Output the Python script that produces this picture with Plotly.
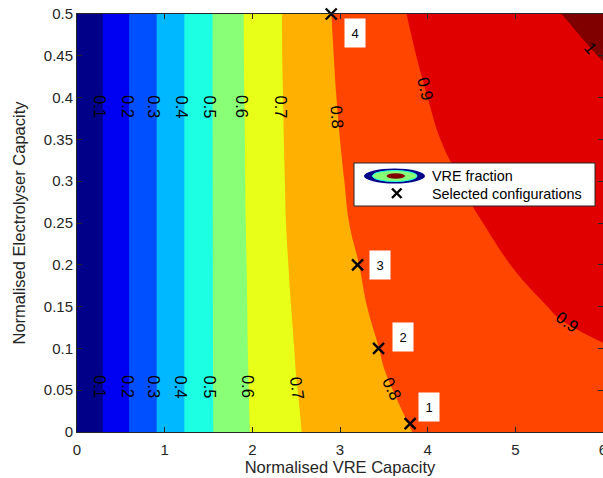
import plotly.graph_objects as go

# Grid of normalised capacities
vre_capacity = [0, 0.5, 1, 1.5, 2, 2.5, 3, 3.5, 4, 4.5, 5, 5.5, 6]
electrolyser_capacity = [0, 0.05, 0.1, 0.15, 0.2, 0.25, 0.3, 0.35, 0.4, 0.45, 0.5]

# VRE fraction, one row per electrolyser capacity
vre_fraction = [
    [0, 0.170, 0.329, 0.487, 0.607, 0.694, 0.742, 0.778, 0.812, 0.839, 0.852, 0.862, 0.869],
    [0, 0.170, 0.329, 0.487, 0.610, 0.698, 0.753, 0.794, 0.823, 0.850, 0.864, 0.876, 0.884],
    [0, 0.170, 0.329, 0.487, 0.613, 0.704, 0.759, 0.805, 0.834, 0.861, 0.877, 0.890, 0.898],
    [0, 0.170, 0.329, 0.487, 0.615, 0.711, 0.771, 0.818, 0.845, 0.872, 0.889, 0.904, 0.913],
    [0, 0.170, 0.329, 0.487, 0.617, 0.718, 0.780, 0.826, 0.856, 0.884, 0.902, 0.917, 0.928],
    [0, 0.170, 0.329, 0.487, 0.620, 0.724, 0.790, 0.838, 0.867, 0.895, 0.914, 0.931, 0.943],
    [0, 0.170, 0.329, 0.487, 0.622, 0.727, 0.795, 0.845, 0.882, 0.906, 0.926, 0.945, 0.958],
    [0, 0.170, 0.329, 0.487, 0.623, 0.730, 0.800, 0.847, 0.893, 0.917, 0.939, 0.958, 0.972],
    [0, 0.170, 0.329, 0.487, 0.625, 0.732, 0.806, 0.853, 0.900, 0.929, 0.951, 0.972, 0.987],
    [0, 0.170, 0.329, 0.487, 0.627, 0.734, 0.811, 0.863, 0.913, 0.940, 0.964, 0.986, 1.002],
    [0, 0.170, 0.329, 0.487, 0.628, 0.734, 0.816, 0.873, 0.925, 0.951, 0.976, 0.999, 1.017],
]

contour_levels = [0.1, 0.2, 0.3, 0.4, 0.5, 0.6, 0.7, 0.8, 0.9, 1.0]

# jet-style band colours (below 0.1 ... above 1.0)
band_colors = ["#000088", "#0000F2", "#0050FF", "#00B8FF", "#1CFFE3", "#88FF77",
               "#E8FF17", "#FFB000", "#FF4500", "#E00000", "#800000"]

# Selected configurations
sel_vre = [3.8, 3.44, 3.2, 2.9]
sel_elec = [0.01, 0.10, 0.20, 0.50]
sel_ids = ["1", "2", "3", "4"]

FONT = "Liberation Sans, Arial, sans-serif"
AX_COLOR = "#262626"

colorscale = [[i / (len(band_colors) - 1), c] for i, c in enumerate(band_colors)]

fig = go.Figure()
fig.add_trace(go.Contour(
    x=vre_capacity, y=electrolyser_capacity, z=vre_fraction,
    autocontour=False,
    contours=dict(start=contour_levels[0], end=contour_levels[-1],
                  size=round(contour_levels[1] - contour_levels[0], 10),
                  coloring="fill", showlines=False),
    colorscale=colorscale, showscale=False,
    line=dict(width=0, smoothing=1.2),
    hoverinfo="skip", name="VRE fraction",
))

fig.add_trace(go.Scatter(
    x=sel_vre, y=sel_elec, mode="markers", name="Selected configurations",
    marker=dict(symbol="x-thin", size=11, line=dict(width=2.4, color="black")),
    cliponaxis=False, showlegend=False,
))

annotations = []

# Inline contour labels: (level index, x, y, angle)
label_spots = [
    (0, 0.26, 0.389, 90), (1, 0.58, 0.389, 90), (2, 0.885, 0.389, 90),
    (3, 1.20, 0.389, 90), (4, 1.52, 0.389, 90), (5, 1.88, 0.389, 90),
    (6, 2.33, 0.389, 90), (7, 2.97, 0.377, 86), (8, 3.97, 0.411, 76),
    (0, 0.26, 0.054, 90), (1, 0.58, 0.054, 90), (2, 0.885, 0.054, 90),
    (3, 1.19, 0.054, 90), (4, 1.52, 0.054, 90), (5, 1.95, 0.054, 90),
    (6, 2.52, 0.052, 82), (7, 3.60, 0.052, 64), (8, 5.60, 0.132, 36),
    (9, 5.86, 0.459, 50),
]
for idx, lx, ly, ang in label_spots:
    annotations.append(dict(
        x=lx, y=ly, xref="x", yref="y", text=f"{contour_levels[idx]:g}",
        showarrow=False, textangle=ang, xanchor="center", yanchor="middle",
        font=dict(family=FONT, size=16.5, color="black"),
    ))

# Numbered boxes beside the selected configurations (pixel offsets)
id_shift = [(19, 17), (24, 11), (22, 0), (24, -19)]
for sx, sy, sid, (dx, dy) in zip(sel_vre, sel_elec, sel_ids, id_shift):
    annotations.append(dict(
        x=sx, y=sy, xref="x", yref="y", text=sid, showarrow=False,
        xshift=dx, yshift=dy, bgcolor="white", borderpad=6,
        width=8, height=16, align="center",
        font=dict(family=FONT, size=13, color="black"),
    ))

# Plot-area pixel helpers for the legend box
L, R, T, B = 77, 603, 14, 432


def px(xp):
    return (xp - L) / (R - L)


def py(yp):
    return (B - yp) / (B - T)


shapes = [
    dict(type="rect", xref="paper", yref="paper", x0=px(354), x1=px(595),
         y0=py(206), y1=py(163), fillcolor="white", line=dict(color=AX_COLOR, width=1)),
    dict(type="circle", xref="paper", yref="paper", x0=px(364), x1=px(425),
         y0=py(183.5), y1=py(168.5), fillcolor="#000088", line=dict(width=0)),
    dict(type="circle", xref="paper", yref="paper", x0=px(372.5), x1=px(417),
         y0=py(181.5), y1=py(170.5), fillcolor="#88FF77", line=dict(color="#1CFFE3", width=1)),
    dict(type="circle", xref="paper", yref="paper", x0=px(386.5), x1=px(405),
         y0=py(178.8), y1=py(173.2), fillcolor="#800000", line=dict(width=0)),
    dict(type="line", xref="paper", yref="paper", x0=px(392), x1=px(401.5),
         y0=py(188.5), y1=py(198), line=dict(color="black", width=2.4)),
    dict(type="line", xref="paper", yref="paper", x0=px(392), x1=px(401.5),
         y0=py(198), y1=py(188.5), line=dict(color="black", width=2.4)),
]

for text, yc in [("VRE fraction", 175.5), ("Selected configurations", 193.5)]:
    annotations.append(dict(
        x=px(430), y=py(yc), xref="paper", yref="paper", text=text,
        showarrow=False, xanchor="left", yanchor="middle",
        font=dict(family=FONT, size=14.4, color="black"),
    ))

axis_common = dict(
    showline=True, linecolor=AX_COLOR, linewidth=1, mirror="ticks",
    ticks="inside", ticklen=5, tickcolor=AX_COLOR, tickwidth=1,
    showgrid=False, zeroline=False, automargin=False,
    tickfont=dict(family=FONT, size=15, color=AX_COLOR),
)

fig.update_layout(
    width=603, height=478,
    margin=dict(l=L, r=603 - R, t=T, b=478 - B, autoexpand=False),
    paper_bgcolor="white", plot_bgcolor="white",
    showlegend=False,
    xaxis=dict(range=[0, 6], tickvals=[0, 1, 2, 3, 4, 5, 6], ticklabelstandoff=4,
               ticklabeloverflow="allow",
               title=dict(text="Normalised VRE Capacity", standoff=4,
                          font=dict(family=FONT, size=16.5, color=AX_COLOR)),
               **axis_common),
    yaxis=dict(range=[0, 0.5], dtick=0.05, tick0=0,
               title=dict(text="Normalised Electrolyser Capacity", standoff=14,
                          font=dict(family=FONT, size=16.5, color=AX_COLOR)),
               **axis_common),
    annotations=annotations,
    shapes=shapes,
)

fig.write_html("out.html")
